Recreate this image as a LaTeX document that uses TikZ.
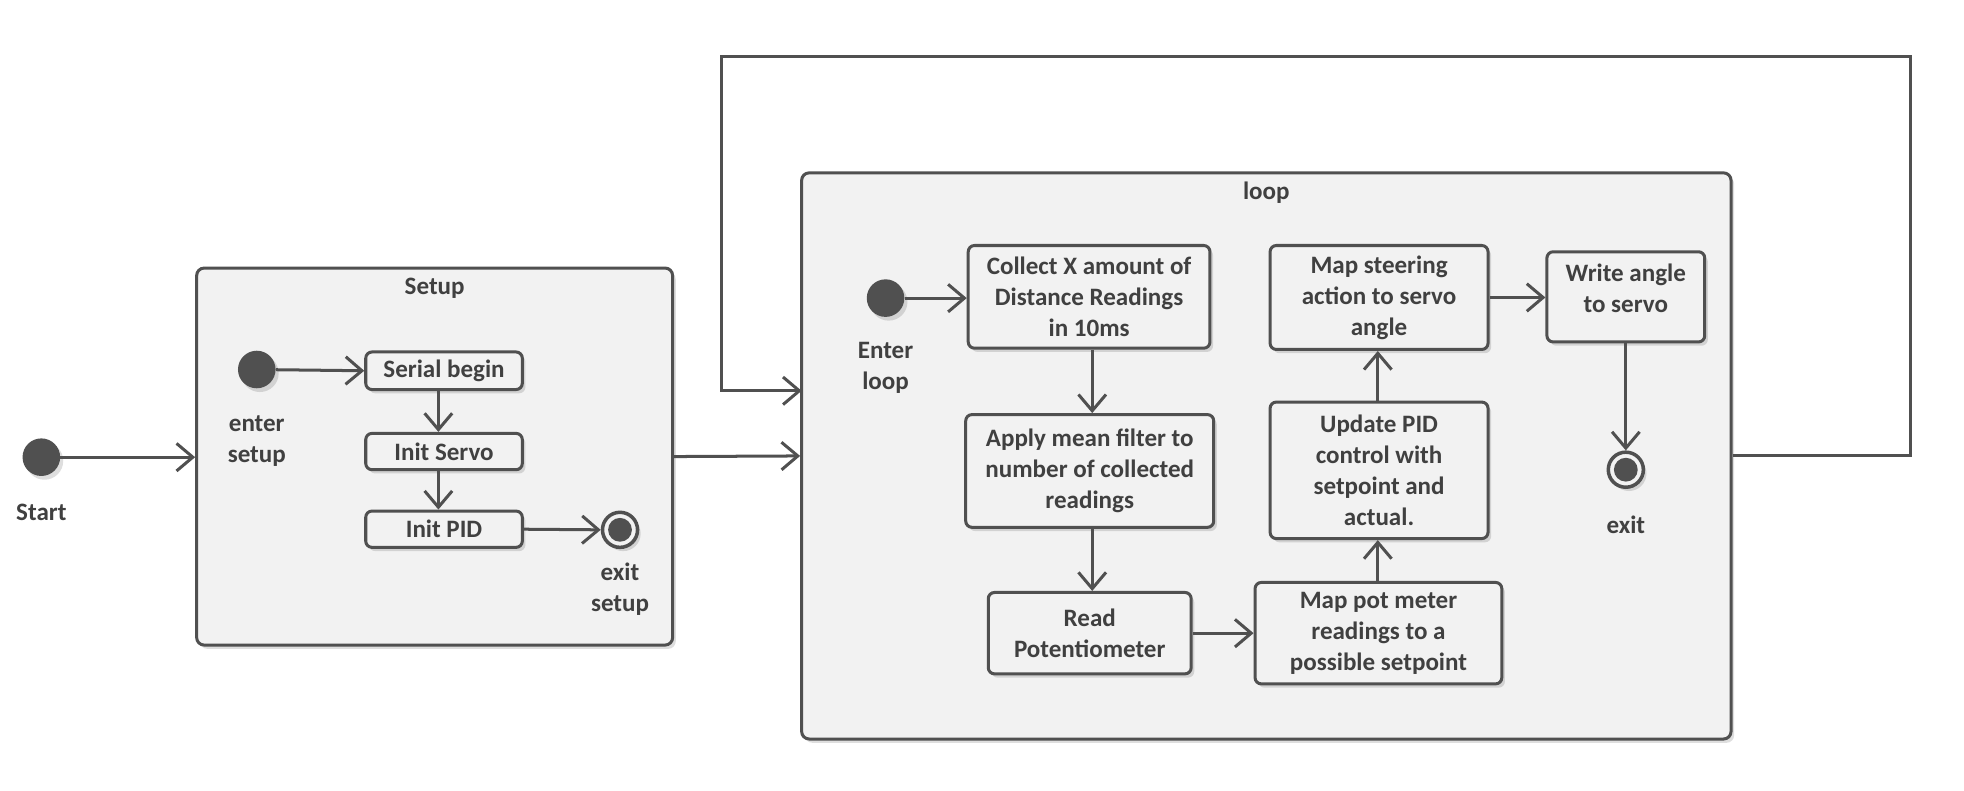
\documentclass[tikz,border=0pt]{standalone}
\usepackage{fontspec}
\setmainfont{Carlito}
\usetikzlibrary{arrows.meta,shadows}
\definecolor{ln}{HTML}{505050}
\definecolor{fl}{HTML}{F2F2F2}
\definecolor{tx}{HTML}{404040}
\tikzset{
  shd/.style={drop shadow={shadow xshift=2.5pt,shadow yshift=-3pt,fill=black,opacity=0.13}},
  frame/.style={draw=ln,line width=2.4pt,fill=fl,rounded corners=6pt,shd,inner sep=0pt},
  act/.style={draw=ln,line width=2.4pt,fill=fl,rounded corners=5pt,shd,align=center,
    font=\bfseries\fontsize{20}{24.8}\selectfont,text=tx,inner sep=0pt},
  lbl/.style={align=center,font=\bfseries\fontsize{20}{24.8}\selectfont,text=tx,inner sep=0pt},
  flow/.style={draw=ln,line width=2.4pt,-{Straight Barb[length=13pt,width=22pt,line width=2.4pt]}},
  initdot/.style={circle,fill=ln,minimum size=30pt,inner sep=0pt,shd},
  finaldot/.style={circle,draw=ln,line width=2.8pt,fill=fl,minimum size=28pt,inner sep=0pt,shd}
}
\begin{document}
\begin{tikzpicture}[x=1pt,y=-1pt]
\useasboundingbox[fill=white] (0,0) rectangle (1568,631.5);
% frames
\node[frame,minimum width=380pt,minimum height=301pt] (setup) at (347,364.5) {};
\node[lbl] (setupT) at (347,230) {Setup};
\node[frame,minimum width=742pt,minimum height=452pt] (loop) at (1011,364) {};
\node[lbl] (loopT) at (1011,154) {loop};
% start
\node[initdot] (start) at (33,365) {};
\node[lbl] (startL) at (33,409) {Start};
% setup content
\node[initdot] (ensetup) at (205,295) {};
\node[lbl] (ensetupL) at (205,352) {enter\\setup};
\node[act,minimum width=125pt,minimum height=30pt] (serial) at (354.5,296) {Serial begin};
\node[act,minimum width=125pt,minimum height=29pt] (servo) at (354.5,360.5) {Init Servo};
\node[act,minimum width=125pt,minimum height=29pt] (pid) at (354.5,422.5) {Init PID};
\node[finaldot] (exsetup) at (495,423) {};
\fill[ln] (exsetup.center) circle (9.5pt);
\node[lbl] (exsetupL) at (495,470.5) {exit\\setup};
% loop content
\node[initdot] (enloop) at (707,238) {};
\node[lbl] (enloopL) at (707,294) {Enter\\loop};
\node[act,minimum width=193pt,minimum height=82pt] (collect) at (869.5,237) {Collect X amount of\\Distance Readings\\in 10ms};
\node[act,minimum width=198pt,minimum height=90pt] (apply) at (870,376) {Apply mean filter to\\number of collected\\readings};
\node[act,minimum width=162pt,minimum height=65pt] (read) at (870,505.5) {Read\\Potentiometer};
\node[act,minimum width=197pt,minimum height=81pt] (mappot) at (1100.5,505.5) {Map pot meter\\readings to a\\possible setpoint};
\node[act,minimum width=174pt,minimum height=109pt] (update) at (1101,375.5) {Update PID\\control with\\setpoint and\\actual.};
\node[act,minimum width=174pt,minimum height=83pt] (steer) at (1101,237.5) {Map steering\\action to servo\\angle};
\node[act,minimum width=126pt,minimum height=72pt] (write) at (1298,237) {};
\node[lbl] (writeT) at (1298,230) {Write angle\\to servo};
\node[finaldot] (exloop) at (1298,375) {};
\fill[ln] (exloop.center) circle (9.5pt);
\node[lbl] (exloopL) at (1298,419) {exit};
% connectors
\draw[flow] (start) -- (setup.west |- start);
\draw[flow] (ensetup) -- (serial.west);
\draw[flow] (serial.south -| 350,0) -- (servo.north -| 350,0);
\draw[flow] (servo.south -| 350,0) -- (pid.north -| 350,0);
\draw[flow] (pid.east) -- (exsetup.west);
\draw[flow] (setup.east) -- (loop.west);
\coordinate (fbR) at (1525,45);
\coordinate (fbL) at (576,45);
\coordinate (fbIn) at (640,312);
\draw[flow] (loop.east) -| (fbR) -- (fbL) |- (fbIn);
\draw[flow] (enloop) -- (collect.west |- enloop);
\draw[flow] (collect.south -| 872,0) -- (apply.north -| 872,0);
\draw[flow] (apply.south -| 872,0) -- (read.north -| 872,0);
\draw[flow] (read.east) -- (mappot.west);
\draw[flow] (mappot.north -| 1100,0) -- (update.south -| 1100,0);
\draw[flow] (update.north -| 1100,0) -- (steer.south -| 1100,0);
\draw[flow] (steer.east) -- (write.west |- steer.east);
\draw[flow] (write.south) -- (exloop.north);
\end{tikzpicture}
\end{document}
